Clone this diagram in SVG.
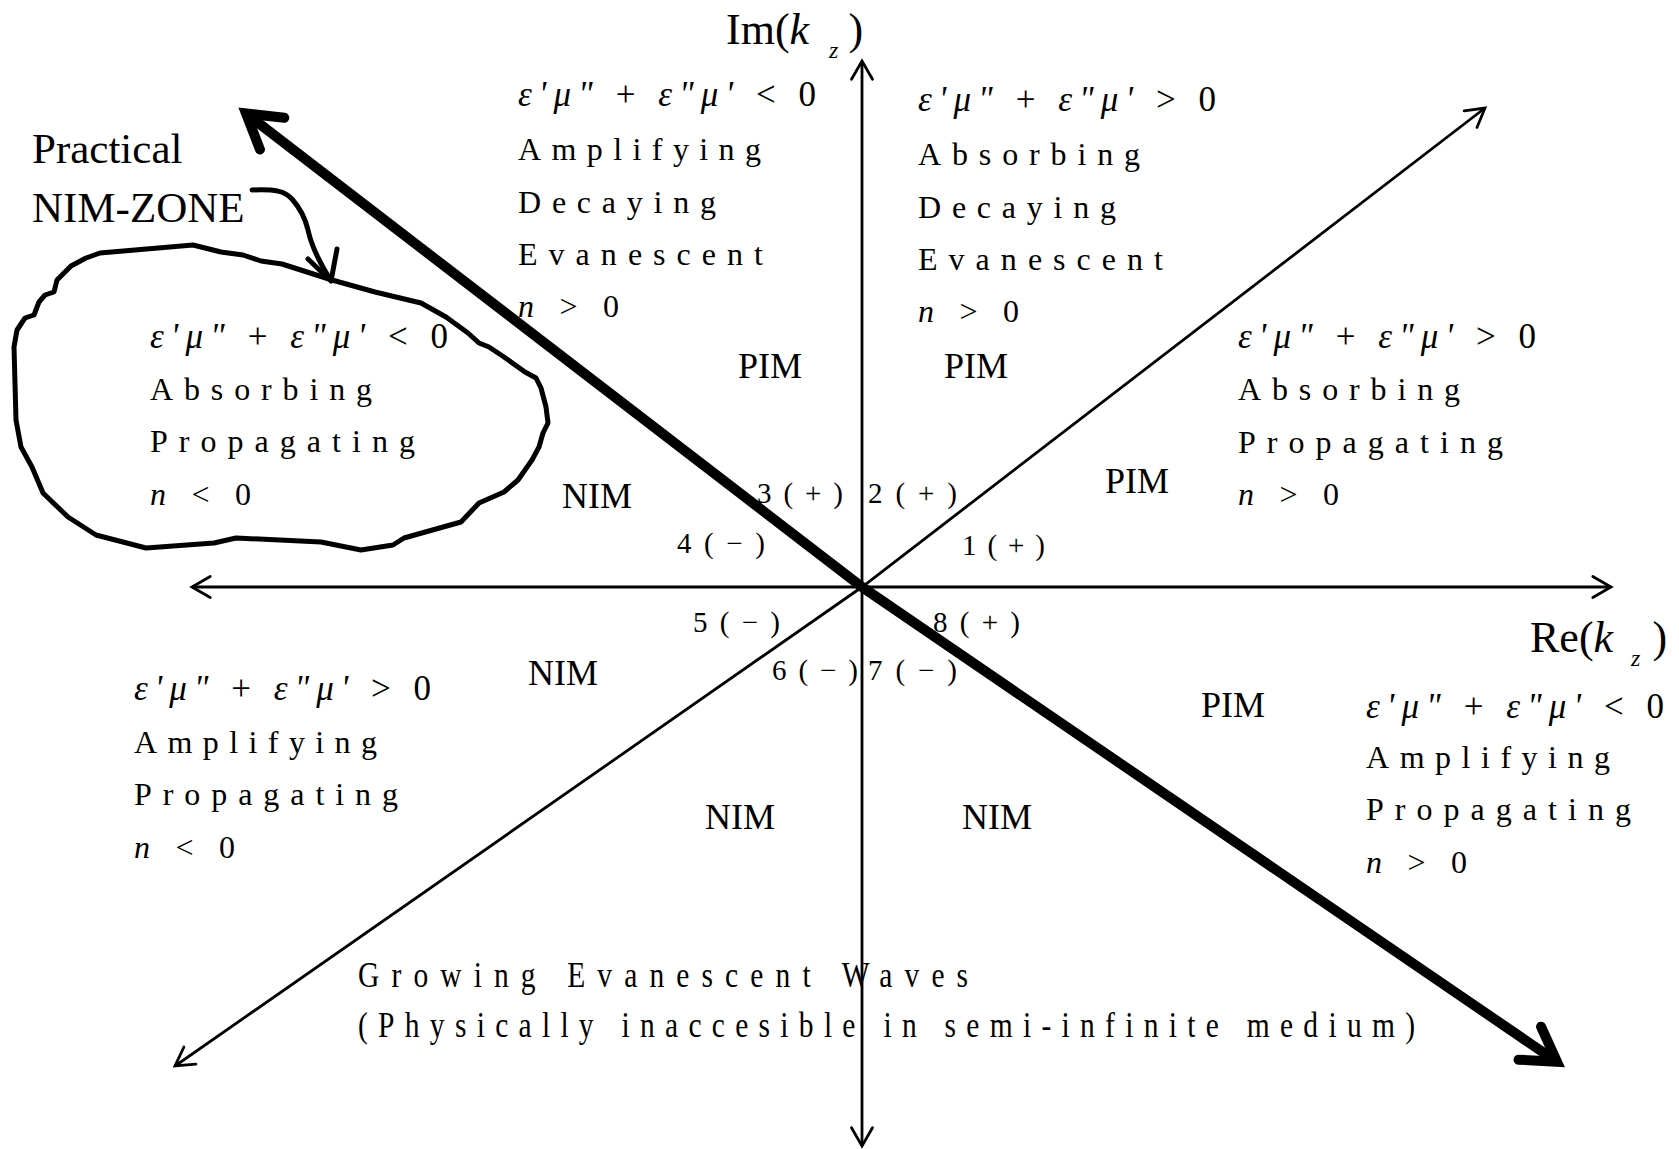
<svg xmlns="http://www.w3.org/2000/svg" width="1679" height="1149" viewBox="0 0 1679 1149">
<style>
text{font-family:"Liberation Serif","Times New Roman",serif;fill:#000}
.t{font-size:32px}
.f{font-size:35px}
.lab{font-size:36px}
.num{font-size:29px}
.big{font-size:44px}
.sub{font-size:24px;font-style:italic}
.note{font-size:43px}
.bot{font-size:36px}
.i{font-style:italic}
.ax{stroke:#000;stroke-width:2.8;fill:none}
.thick{stroke:#000;stroke-width:10;fill:none;stroke-linejoin:round}
.hand{stroke:#000;stroke-width:5;fill:none;stroke-linejoin:round;stroke-linecap:round}
</style>
<defs>
<marker id="ah" markerUnits="userSpaceOnUse" orient="auto-start-reverse" refX="0" refY="0" markerWidth="1" markerHeight="1" overflow="visible">
<path d="M-18.2,-10.5 L0,0 L-18.2,10.5" fill="none" stroke="#000" stroke-width="2.8" stroke-linecap="round"/>
</marker>
<marker id="ahb" markerUnits="userSpaceOnUse" orient="auto-start-reverse" refX="0" refY="0" markerWidth="1" markerHeight="1" overflow="visible">
<path d="M-33,-20 L0,0 L-33,20" fill="none" stroke="#000" stroke-width="10" stroke-linejoin="miter" stroke-miterlimit="10" stroke-linecap="round"/>
</marker>
</defs>
<rect width="1679" height="1149" fill="#fff"/>

<g id="connectors">
<path class="ax" d="M192,587 L1611,587" marker-start="url(#ah)" marker-end="url(#ah)"/>
<path class="ax" d="M862,1146 L862,61" marker-start="url(#ah)" marker-end="url(#ah)"/>
<path class="ax" d="M175,1066 L862,587 L1485,108" marker-start="url(#ah)" marker-end="url(#ah)"/>
<path class="thick" d="M246,113.5 L862,587 L1557,1061.8" marker-start="url(#ahb)" marker-end="url(#ahb)"/>
<path class="hand" d="M252,190 C275,189 285,191 292,199 C300,208 305,217 308,230 C311,244 318,260 330,279"/>
<path class="hand" d="M308,259 L331,281 L337,249"/>
</g>

<g id="nim-zone-outline">
<path class="hand" d="M14,347 L17,330 L25,318 L34,315 L39,302 L45,295 L54,292 L57,280 L71,266 L86,258 L100,253 L193,245 L221,252 L243,255 L261,261 L282,264 L307,272 L332,280 L375,292 L421,303 L446,317 L468,333 L479,343 L489,347 L504,357 L525,372 L536,378 L541,388 L546,407 L548,423 L543,433 L539,447 L532,460 L518,480 L504,492 L479,503 L461,522 L404,538 L393,545 L361,550 L321,542 L236,538 L214,543 L146,548 L96,535 L68,517 L43,493 L32,467 L21,447 L16,420 Z"/>
</g>

<g id="axis-im">
<text class="big" x="726" y="44">Im(<tspan class="i">k</tspan><tspan class="sub" dx="20" dy="14">z</tspan><tspan dx="10" dy="-14">)</tspan></text>
</g>
<g id="axis-re">
<text class="big" x="1530" y="652">Re(<tspan class="i">k</tspan><tspan class="sub" dx="18" dy="14">z</tspan><tspan dx="12" dy="-14">)</tspan></text>
</g>

<g id="practical-nim-zone">
<text class="note" x="32" y="163">Practical</text>
<text class="note" x="32" y="222">NIM-ZONE</text>
</g>

<g id="region-top-left">
<text class="f" x="518" y="106" textLength="298" lengthAdjust="spacing"><tspan class="i">ε'μ"</tspan> + <tspan class="i">ε"μ'</tspan> &lt; 0</text>
<text class="t" x="518" y="160" textLength="243" lengthAdjust="spacing">Amplifying</text>
<text class="t" x="518" y="213" textLength="198" lengthAdjust="spacing">Decaying</text>
<text class="t" x="518" y="265" textLength="245" lengthAdjust="spacing">Evanescent</text>
<text class="t" x="518" y="317" textLength="101" lengthAdjust="spacing"><tspan class="i">n</tspan> &gt; 0</text>
</g>

<g id="region-top-right">
<text class="f" x="918" y="111" textLength="298" lengthAdjust="spacing"><tspan class="i">ε'μ"</tspan> + <tspan class="i">ε"μ'</tspan> &gt; 0</text>
<text class="t" x="918" y="165" textLength="222" lengthAdjust="spacing">Absorbing</text>
<text class="t" x="918" y="218" textLength="198" lengthAdjust="spacing">Decaying</text>
<text class="t" x="918" y="270" textLength="245" lengthAdjust="spacing">Evanescent</text>
<text class="t" x="918" y="322" textLength="101" lengthAdjust="spacing"><tspan class="i">n</tspan> &gt; 0</text>
</g>

<g id="region-right">
<text class="f" x="1238" y="348" textLength="298" lengthAdjust="spacing"><tspan class="i">ε'μ"</tspan> + <tspan class="i">ε"μ'</tspan> &gt; 0</text>
<text class="t" x="1238" y="400" textLength="222" lengthAdjust="spacing">Absorbing</text>
<text class="t" x="1238" y="453" textLength="265" lengthAdjust="spacing">Propagating</text>
<text class="t" x="1238" y="505" textLength="101" lengthAdjust="spacing"><tspan class="i">n</tspan> &gt; 0</text>
</g>

<g id="region-left">
<text class="f" x="150" y="348" textLength="298" lengthAdjust="spacing"><tspan class="i">ε'μ"</tspan> + <tspan class="i">ε"μ'</tspan> &lt; 0</text>
<text class="t" x="150" y="400" textLength="222" lengthAdjust="spacing">Absorbing</text>
<text class="t" x="150" y="452" textLength="265" lengthAdjust="spacing">Propagating</text>
<text class="t" x="150" y="505" textLength="101" lengthAdjust="spacing"><tspan class="i">n</tspan> &lt; 0</text>
</g>

<g id="region-lower-left">
<text class="f" x="134" y="700" textLength="297" lengthAdjust="spacing"><tspan class="i">ε'μ"</tspan> + <tspan class="i">ε"μ'</tspan> &gt; 0</text>
<text class="t" x="134" y="753" textLength="243" lengthAdjust="spacing">Amplifying</text>
<text class="t" x="134" y="805" textLength="264" lengthAdjust="spacing">Propagating</text>
<text class="t" x="134" y="858" textLength="101" lengthAdjust="spacing"><tspan class="i">n</tspan> &lt; 0</text>
</g>

<g id="region-lower-right">
<text class="f" x="1366" y="718" textLength="298" lengthAdjust="spacing"><tspan class="i">ε'μ"</tspan> + <tspan class="i">ε"μ'</tspan> &lt; 0</text>
<text class="t" x="1366" y="768" textLength="244" lengthAdjust="spacing">Amplifying</text>
<text class="t" x="1366" y="820" textLength="265" lengthAdjust="spacing">Propagating</text>
<text class="t" x="1366" y="873" textLength="101" lengthAdjust="spacing"><tspan class="i">n</tspan> &gt; 0</text>
</g>

<g id="medium-labels">
<text class="lab" x="738" y="378">PIM</text>
<text class="lab" x="944" y="378">PIM</text>
<text class="lab" x="1105" y="493">PIM</text>
<text class="lab" x="1201" y="717">PIM</text>
<text class="lab" x="562" y="508">NIM</text>
<text class="lab" x="528" y="685">NIM</text>
<text class="lab" x="705" y="829">NIM</text>
<text class="lab" x="962" y="829">NIM</text>
</g>

<g id="octant-labels">
<text class="num" x="757" y="503" textLength="86" lengthAdjust="spacing">3(+)</text>
<text class="num" x="868" y="503" textLength="89" lengthAdjust="spacing">2(+)</text>
<text class="num" x="677" y="553" textLength="88" lengthAdjust="spacing">4(−)</text>
<text class="num" x="962" y="555" textLength="83" lengthAdjust="spacing">1(+)</text>
<text class="num" x="693" y="632" textLength="87" lengthAdjust="spacing">5(−)</text>
<text class="num" x="933" y="632" textLength="87" lengthAdjust="spacing">8(+)</text>
<text class="num" x="772" y="680" textLength="86" lengthAdjust="spacing">6(−)</text>
<text class="num" x="868" y="680" textLength="89" lengthAdjust="spacing">7(−)</text>
</g>

<g id="growing-note" transform="scale(0.82,1)">
<text class="bot" x="436.6" y="987" textLength="744" lengthAdjust="spacing">Growing Evanescent Waves</text>
<text class="bot" x="436.6" y="1037" textLength="1289" lengthAdjust="spacing">(Physically inaccesible in semi-infinite medium)</text>
</g>
</svg>
